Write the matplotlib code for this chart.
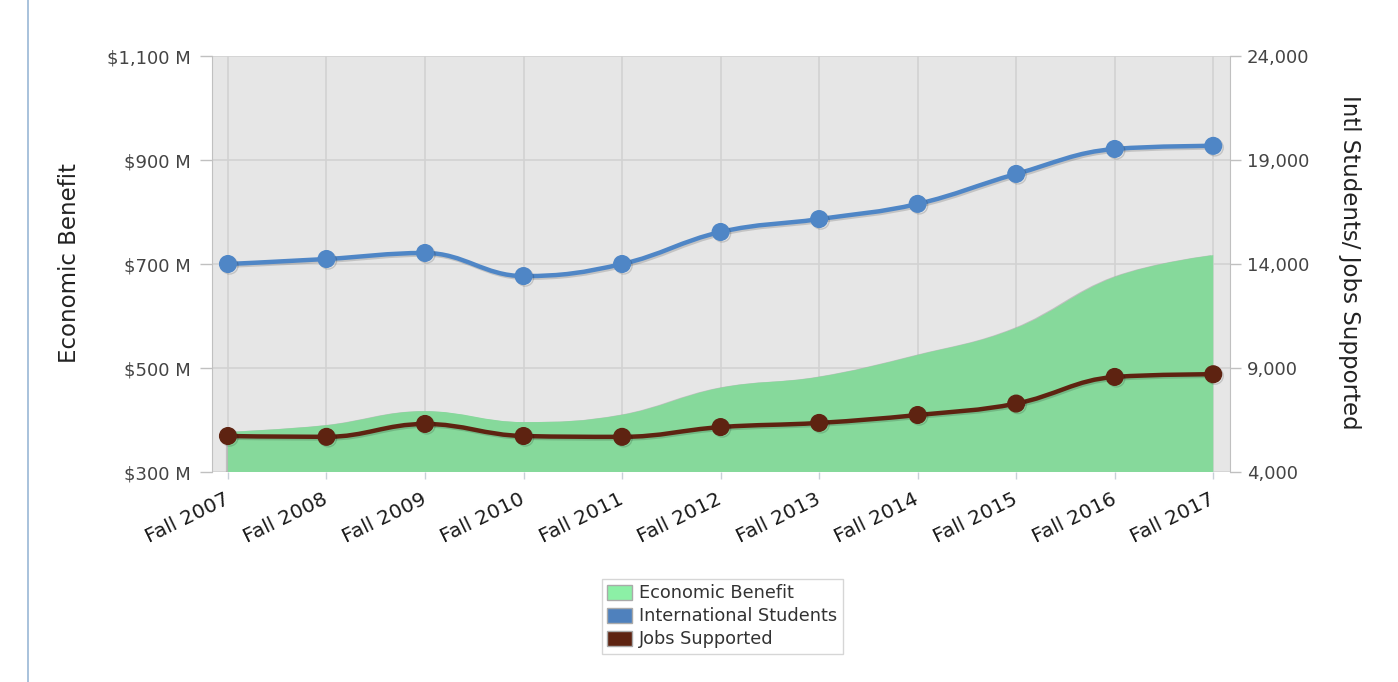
import matplotlib
matplotlib.use("Agg")
import matplotlib.pyplot as plt
from matplotlib.path import Path
from matplotlib.patches import PathPatch, Patch
from matplotlib.lines import Line2D
from matplotlib.transforms import ScaledTranslation
import matplotlib.patheffects as pe
from matplotlib.ticker import FuncFormatter

# ---------------- data ----------------
categories = ["Fall 2007", "Fall 2008", "Fall 2009", "Fall 2010", "Fall 2011", "Fall 2012",
              "Fall 2013", "Fall 2014", "Fall 2015", "Fall 2016", "Fall 2017"]
economic_benefit = [377, 390, 417, 396, 410, 462, 483, 525, 577, 675, 717]          # $ M
intl_students = [14000, 14240, 14530, 13420, 14000, 15540, 16160, 16890, 18330, 19530, 19680]
jobs_supported = [5730, 5690, 6310, 5730, 5690, 6160, 6360, 6740, 7290, 8570, 8700]

left_ticks = [300, 500, 700, 900, 1100]
right_ticks = [4000, 9000, 14000, 19000, 24000]

# ---------------- style ----------------
C_GREEN = "#86d99b"
C_GREEN_LEG = "#8cf0a6"
C_BLUE = "#4f86c6"
C_BLUE_LEG = "#4f81bd"
C_BROWN = "#5e2311"
C_BG = "#e6e6e6"
C_GRID = "#d2d2d2"
C_AX = "#c0c0c0"

plt.rcParams["font.family"] = ["DejaVu Sans"]

W, H = 1398, 682
fig = plt.figure(figsize=(W / 100, H / 100), dpi=100)
L, R, T, B = 212, 1230, 56, 472
ax = fig.add_axes([L / W, 1 - B / H, (R - L) / W, (B - T) / H])
ax2 = ax.twinx()


def spline(xs, ys, s=1.5):
    n = len(xs)
    lc = [None] * n
    rc = [None] * n
    for i in range(n):
        x, y = xs[i], ys[i]
        if 0 < i < n - 1:
            lx, ly = xs[i - 1], ys[i - 1]
            nx, ny = xs[i + 1], ys[i + 1]
            d = s + 1
            lcx, lcy = (s * x + lx) / d, (s * y + ly) / d
            rcx, rcy = (s * x + nx) / d, (s * y + ny) / d
            corr = ((rcy - lcy) * (rcx - x)) / (rcx - lcx) + y - rcy
            lcy += corr
            rcy += corr
            if lcy > ly and lcy > y:
                lcy = max(ly, y); rcy = 2 * y - lcy
            elif lcy < ly and lcy < y:
                lcy = min(ly, y); rcy = 2 * y - lcy
            if rcy > ny and rcy > y:
                rcy = max(ny, y); lcy = 2 * y - rcy
            elif rcy < ny and rcy < y:
                rcy = min(ny, y); lcy = 2 * y - rcy
            lc[i] = (lcx, lcy)
            rc[i] = (rcx, rcy)
        else:
            lc[i] = rc[i] = (x, y)
    verts = [(xs[0], ys[0])]
    codes = [Path.MOVETO]
    for i in range(1, n):
        verts += [rc[i - 1], lc[i], (xs[i], ys[i])]
        codes += [Path.CURVE4] * 3
    return verts, codes


xs = list(range(len(categories)))

# background & grid
ax.set_facecolor(C_BG)
ax2.patch.set_visible(False)
ax.set_xlim(-0.162, 10.17)
ax.set_ylim(300, 1100)
ax2.set_ylim(4000, 24000)
ax.set_yticks(left_ticks)
ax2.set_yticks(right_ticks)
ax.set_xticks(xs)
ax.grid(True, color=C_GRID, lw=1.2)
ax.set_axisbelow(True)

# economic benefit area
v, c = spline(xs, economic_benefit)
v = v + [(xs[-1], left_ticks[0]), (xs[0], left_ticks[0]), (xs[0], economic_benefit[0])]
c = c + [Path.LINETO, Path.LINETO, Path.CLOSEPOLY]
ax.add_patch(PathPatch(Path(v, c), facecolor=C_GREEN, edgecolor="none", zorder=2,
                       path_effects=[pe.SimplePatchShadow(offset=(-1.5, 0), shadow_rgbFace="#999999", alpha=0.5), pe.Normal()]))

shadow = [pe.SimpleLineShadow(offset=(1.2, -1.2), shadow_color="black", alpha=0.15), pe.Normal()]
for series, col in [(intl_students, C_BLUE), (jobs_supported, C_BROWN)]:
    v, c = spline(xs, series)
    ax2.add_patch(PathPatch(Path(v, c), facecolor="none", edgecolor=col, lw=3.2,
                            capstyle="round", joinstyle="round", zorder=3, path_effects=shadow))
    ax2.plot(xs, series, "o", color=col, ms=12, mec=col, zorder=4, path_effects=shadow)

# axes styling
for a in (ax, ax2):
    for sp in ("top", "bottom"):
        a.spines[sp].set_visible(False)
ax.spines["left"].set_color(C_AX)
ax.spines["right"].set_visible(False)
ax2.spines["left"].set_visible(False)
ax2.spines["right"].set_color(C_AX)

ax.yaxis.set_major_formatter(FuncFormatter(lambda v, p: "${:,.0f} M".format(v)))
ax2.yaxis.set_major_formatter(FuncFormatter(lambda v, p: "{:,.0f}".format(v)))
ax.tick_params(axis="y", length=9, width=1, color=C_AX, pad=6, labelsize=13, labelcolor="#444444")
ax2.tick_params(axis="y", length=8, width=1, color=C_AX, pad=4, labelsize=13, labelcolor="#444444")
ax.tick_params(axis="x", length=5, width=1, color="#c8d0d8", pad=8, labelsize=14.5, labelcolor="#1a1a1a")
ax.set_xticklabels(categories, rotation=26, ha="right", rotation_mode="anchor")
for lab in ax.get_xticklabels():
    lab.set_transform(lab.get_transform() + ScaledTranslation(-0.04, 0, fig.dpi_scale_trans))

fig.text(70 / W, 1 - 263 / H, "Economic Benefit", rotation=90, ha="center", va="center",
         fontsize=16.5, color="#222222")
fig.text(1350 / W, 1 - 262 / H, "Intl Students/ Jobs Supported", rotation=270, ha="center",
         va="center", fontsize=16.5, color="#222222")

# legend
handles = [Patch(facecolor=C_GREEN_LEG, edgecolor="#aaaaaa"),
           Patch(facecolor=C_BLUE_LEG, edgecolor="#aaaaaa"),
           Patch(facecolor=C_BROWN, edgecolor="#aaaaaa")]
labels = ["Economic Benefit", "International Students", "Jobs Supported"]
leg = fig.legend(handles, labels, loc="upper left", bbox_to_anchor=(602 / W, 1 - 579 / H),
                 frameon=True, fancybox=False, edgecolor="#cccccc", fontsize=12.8,
                 handlelength=1.4, handleheight=0.95, handletextpad=0.4, labelspacing=0.28,
                 borderpad=0.3, borderaxespad=0)
leg.get_frame().set_linewidth(1)
for t in leg.get_texts():
    t.set_color("#333333")

# page border line on the left
fig.add_artist(Line2D([27.5 / W, 27.5 / W], [0, 1], color="#9ab8d6", lw=1.2))

fig.savefig("out.png", dpi=100, facecolor="white")
